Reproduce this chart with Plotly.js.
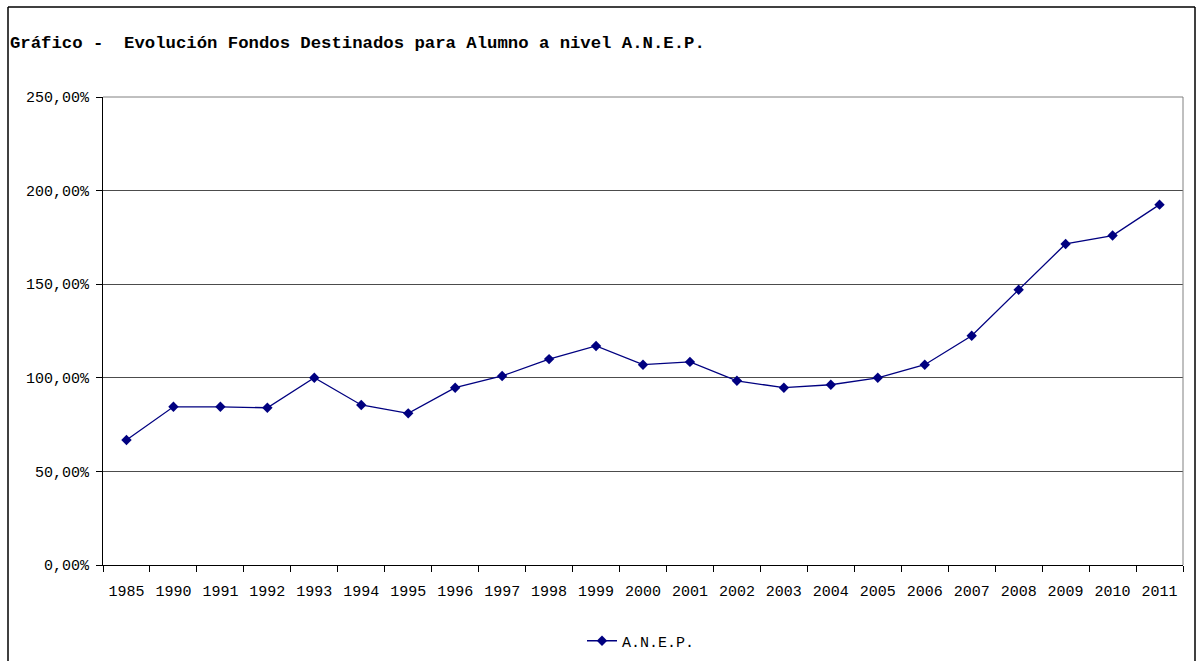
<!DOCTYPE html>
<html>
<head>
<meta charset="utf-8">
<script src="https://cdn.plot.ly/plotly-3.0.1.min.js"></script>
<style>html,body{margin:0;padding:0;background:#fff;}#chart{width:1199px;height:661px;}</style>
</head>
<body>
<div id="chart"></div>
<script>
const years = ["1985","1990","1991","1992","1993","1994","1995","1996","1997","1998","1999","2000","2001","2002","2003","2004","2005","2006","2007","2008","2009","2010","2011"];
const anep = [66.8,84.5,84.5,84.0,100.0,85.5,81.0,94.7,101.0,110.0,117.0,107.0,108.5,98.4,94.7,96.3,100.0,107.0,122.5,147.0,171.5,176.0,192.5];
const yTicks = [0,50,100,150,200,250];
const yTickText = ["0,00%","50,00%","100,00%","150,00%","200,00%","250,00%"];
const seriesName = "A.N.E.P.";
const titleText = "Gráfico -\u00a0 Evolución Fondos Destinados para Alumno a nivel A.N.E.P.";

const font = "Liberation Mono, DejaVu Sans Mono, monospace";
const L = 103, R = 16, T = 97, B = 96, W = 1199, H = 661;
const pw = W - L - R, ph = H - T - B;
const px = x => (x - L) / pw;
const py = y => (H - B - y) / ph;

const trace = {
  x: years, y: anep, type: "scatter", mode: "lines+markers", name: seriesName,
  line: {color: "#000080", width: 1.3},
  marker: {symbol: "diamond", size: 8, color: "#000080"}
};
const layout = {
  width: W, height: H,
  margin: {l: L, r: R, t: T, b: B, autoexpand: false},
  paper_bgcolor: "#fff", plot_bgcolor: "#fff",
  font: {family: font, size: 15, color: "#000"},
  title: {text: "<b>" + titleText + "</b>", xref: "container", yref: "container", x: 10/W, xanchor: "left", y: 1 - 42/H, yanchor: "middle", font: {family: font, size: 17.3, color: "#000"}},
  xaxis: {type: "category", range: [-0.5, years.length - 0.5], tickson: "boundaries", ticks: "outside", ticklen: 6, tickcolor: "#000", showline: true, linecolor: "#000", linewidth: 1, showgrid: false, tickfont: {size: 15}, ticklabelstandoff: 12, fixedrange: true},
  yaxis: {range: [0, 250], tickvals: yTicks, ticktext: yTickText, ticks: "outside", ticklen: 6, tickcolor: "#000", showline: true, linecolor: "#000", linewidth: 1, showgrid: true, gridcolor: "#000", gridwidth: 0.7, zeroline: false, tickfont: {size: 15}, ticklabelstandoff: 4, fixedrange: true},
  showlegend: true,
  legend: {orientation: "h", xref: "container", yref: "container", x: 641/W, xanchor: "center", y: 1 - 641/H, yanchor: "middle", font: {size: 15}},
  shapes: [
    {type: "line", xref: "paper", yref: "paper", x0: 0, x1: 1, y0: 1, y1: 1, line: {color: "#808080", width: 1}},
    {type: "line", xref: "paper", yref: "paper", x0: 1, x1: 1, y0: 0, y1: 1, line: {color: "#808080", width: 1}},
    {type: "line", xref: "paper", yref: "paper", x0: px(8), x1: px(8), y0: py(H + 5), y1: py(7), line: {color: "#000", width: 1.5}},
    {type: "line", xref: "paper", yref: "paper", x0: px(8), x1: px(1195), y0: py(7), y1: py(7), line: {color: "#000", width: 1.5}},
    {type: "line", xref: "paper", yref: "paper", x0: px(1195), x1: px(1195), y0: py(H + 5), y1: py(7), line: {color: "#000", width: 1.5}}
  ]
};
Plotly.newPlot("chart", [trace], layout, {displayModeBar: false, staticPlot: true});
</script>
</body>
</html>
